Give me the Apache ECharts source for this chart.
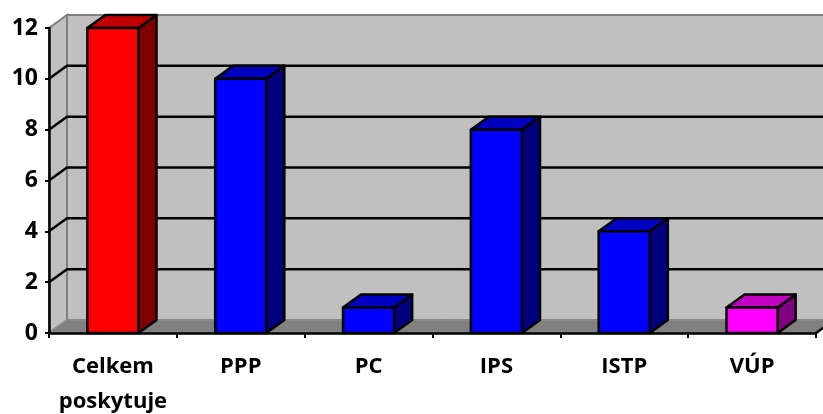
<!DOCTYPE html>
<html>
<head>
<meta charset="utf-8">
<script src="https://cdn.jsdelivr.net/npm/echarts@6/dist/echarts.min.js"></script>
<style>
  html, body { margin: 0; padding: 0; background: #fff; }
  #chart { width: 823px; height: 414px; }
</style>
</head>
<body>
<div id="chart"></div>
<script>
const categories = ["Celkem poskytuje", "PPP", "PC", "IPS", "ISTP", "VÚP"];
const values = [12, 10, 1, 8, 4, 1];
const barColors = ["red", "blue", "blue", "blue", "blue", "magenta"];
const yTicks = [0, 2, 4, 6, 8, 10, 12];

// front / top / side shades for the fake 3D bars
const shades = {
  red: ["#ff0000", "#c00000", "#800000"],
  blue: ["#0000ff", "#0000c0", "#000080"],
  magenta: ["#ff00ff", "#c000c0", "#800080"]
};

const DX = 18, DY = 13;
const font = "'Open Sans', sans-serif";

const chart = echarts.init(document.getElementById("chart"));

function renderWalls(params, api) {
  const cs = params.coordSys;
  const x0 = cs.x, x1 = cs.x + cs.width;
  const top = cs.y, bottom = cs.y + cs.height;
  const children = [];
  // back wall
  children.push({
    type: "rect",
    shape: { x: x0 + DX, y: top - DY, width: x1 - x0, height: bottom - top },
    style: { fill: "#c0c0c0", stroke: "#808080", lineWidth: 2 }
  });
  // left side wall
  children.push({
    type: "polygon",
    shape: { points: [[x0, bottom], [x0, top], [x0 + DX, top - DY], [x0 + DX, bottom - DY]] },
    style: { fill: "#c0c0c0", stroke: "#808080", lineWidth: 2 }
  });
  // floor
  children.push({
    type: "polygon",
    shape: { points: [[x0, bottom], [x0 + DX, bottom - DY], [x1 + DX, bottom - DY], [x1, bottom]] },
    style: { fill: "#808080", stroke: "#909090", lineWidth: 1 }
  });
  // gridlines
  yTicks.forEach(function (v) {
    if (v === 0 || v === yTicks[yTicks.length - 1]) return;
    const y = api.coord([0, v])[1];
    children.push({
      type: "polyline",
      shape: { points: [[x0, y], [x0 + DX, y - DY], [x1 + DX, y - DY]] },
      style: { stroke: "#000", lineWidth: 2.5, fill: null }
    });
  });
  // right end of the floor edge
  children.push({
    type: "line",
    shape: { x1: x1, y1: bottom, x2: x1 + DX, y2: bottom - DY },
    style: { stroke: "#000", lineWidth: 2.5 }
  });
  return { type: "group", children: children };
}

function renderBar(params, api) {
  const idx = api.value(0);
  const p = api.coord([idx, api.value(1)]);
  const b = api.coord([idx, 0]);
  const w = api.size([1, 0])[0] * 0.4;
  const l = p[0] - w / 2, r = p[0] + w / 2;
  const t = p[1], btm = b[1];
  const c = shades[barColors[idx]];
  const st = { stroke: "#000", lineWidth: 2.5, lineJoin: "round" };
  return {
    type: "group",
    children: [
      { type: "polygon", shape: { points: [[r, btm], [r, t], [r + DX, t - DY], [r + DX, btm - DY]] },
        style: Object.assign({ fill: c[2] }, st) },
      { type: "polygon", shape: { points: [[l, t], [l + DX, t - DY], [r + DX, t - DY], [r, t]] },
        style: Object.assign({ fill: c[1] }, st) },
      { type: "rect", shape: { x: l, y: t, width: w, height: btm - t },
        style: Object.assign({ fill: c[0] }, st) }
    ]
  };
}

const option = {
  backgroundColor: "#fff",
  animation: false,
  grid: { left: 49, right: 7, top: 28, bottom: 81, outerBoundsMode: "none", containLabel: false },
  xAxis: {
    type: "category",
    data: categories,
    z: 10,
    axisLine: { lineStyle: { color: "#000", width: 2.5 } },
    axisTick: { show: true, length: 5, lineStyle: { color: "#000", width: 2 } },
    axisLabel: {
      margin: 16,
      color: "#000",
      fontFamily: font,
      fontWeight: "bold",
      fontSize: 22,
      lineHeight: 35,
      interval: 0,
      formatter: function (s) { return s.replace(" ", "\n"); }
    }
  },
  yAxis: {
    type: "value",
    min: 0,
    max: 12,
    interval: 2,
    z: 10,
    splitLine: { show: false },
    axisLine: { show: true, lineStyle: { color: "#000", width: 2.5 } },
    axisTick: { show: true, length: 4, lineStyle: { color: "#000", width: 2 } },
    axisLabel: {
      margin: 11,
      color: "#000",
      fontFamily: font,
      fontWeight: "bold",
      fontSize: 23
    }
  },
  series: [
    {
      type: "custom",
      renderItem: renderWalls,
      data: [[0, 0]],
      z: 1,
      silent: true
    },
    {
      type: "custom",
      renderItem: renderBar,
      data: values.map(function (v, i) { return [i, v]; }),
      encode: { x: 0, y: 1 },
      z: 3
    }
  ]
};

chart.setOption(option);
window.addEventListener("resize", function () { chart.resize(); });
</script>
</body>
</html>
